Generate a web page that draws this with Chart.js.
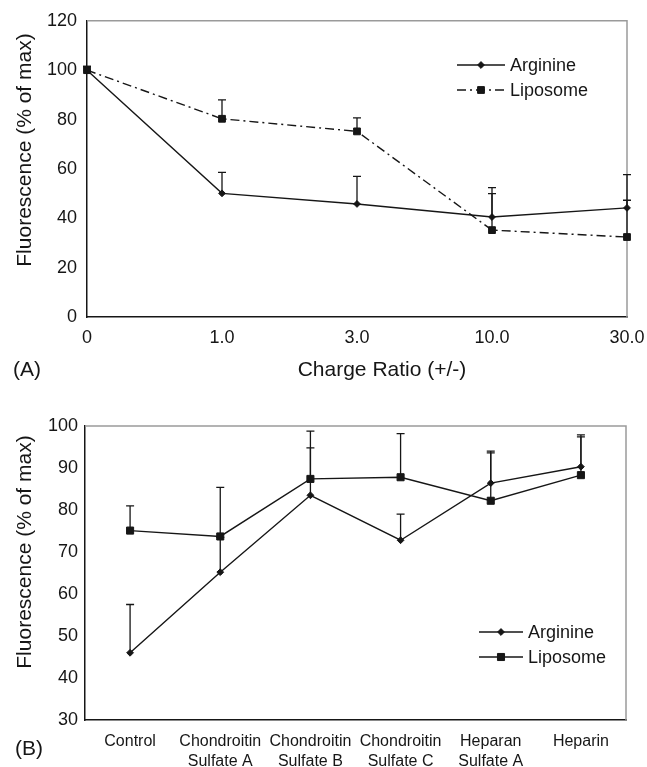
<!DOCTYPE html>
<html>
<head>
<meta charset="utf-8">
<script src="https://cdn.jsdelivr.net/npm/chart.js@4.4.0/dist/chart.umd.min.js"></script>
<style>
  body { margin: 0; background: #fff; }
  #wrap { position: relative; width: 647px; height: 767px; overflow: hidden; }
  canvas { position: absolute; left: 0; }
  #chartA { top: 0; }
  #chartB { top: 380px; }
</style>
</head>
<body>
<div id="wrap">
  <canvas id="chartA" width="647" height="386"></canvas>
  <canvas id="chartB" width="647" height="387"></canvas>
</div>
<script>
// Panel A: fluorescence vs charge ratio (upper error only)
const ratioLabels  = ["0", "1.0", "3.0", "10.0", "30.0"];
const arginineA    = [100, 50.1, 45.8, 40.5, 44.2];
const arginineAErr = [101.5, 58.6, 57.0, 52.4, 57.7];
const liposomeA    = [100, 80.3, 75.2, 35.2, 32.4];
const liposomeAErr = [101.5, 88.0, 80.7, 50.0, 47.3];

// Panel B: fluorescence after glycosaminoglycan challenge
const agentLabels = [
  ["Control"],
  ["Chondroitin", "Sulfate A"],
  ["Chondroitin", "Sulfate B"],
  ["Chondroitin", "Sulfate C"],
  ["Heparan", "Sulfate A"],
  ["Heparin"],
];
const arginineB    = [46.0, 65.2, 83.5, 72.8, 86.4, 90.3];
const arginineBErr = [57.5, 73.5, 94.8, 79.0, 93.6, 97.4];
const liposomeB    = [75.1, 73.7, 87.4, 87.8, 82.2, 88.3];
const liposomeBErr = [81.0, 85.4, 98.8, 98.2, 94.0, 97.9];

const INK = "#161616";
const FONT = "'Liberation Sans', Arial, sans-serif";
Chart.defaults.font.family = FONT;
Chart.defaults.color = INK;

function drawMarker(ctx, style, x, y, r) {
  ctx.beginPath();
  if (style === "rect") {
    const h = r * Math.SQRT1_2;
    ctx.rect(x - h, y - h, 2 * h, 2 * h);
  } else {
    ctx.moveTo(x - r, y);
    ctx.lineTo(x, y - r);
    ctx.lineTo(x + r, y);
    ctx.lineTo(x, y + r);
    ctx.closePath();
  }
  ctx.fill();
  ctx.stroke();
}

// one-sided (upper) error bars from dataset.errTop
const errorBars = {
  id: "errorBars",
  beforeDatasetsDraw(chart) {
    const ctx = chart.ctx;
    const xs = chart.scales.x, ys = chart.scales.y;
    chart.data.datasets.forEach((ds) => {
      if (!ds.errTop) return;
      ctx.save();
      ctx.strokeStyle = INK;
      ctx.lineWidth = 1.3;
      ds.errTop.forEach((top, i) => {
        if (top == null) return;
        const px = xs.getPixelForValue(i);
        const y0 = ys.getPixelForValue(ds.data[i]);
        const y1 = ys.getPixelForValue(top);
        ctx.beginPath();
        ctx.moveTo(px, y0);
        ctx.lineTo(px, y1);
        ctx.moveTo(px - 4, y1);
        ctx.lineTo(px + 4, y1);
        ctx.stroke();
      });
      ctx.restore();
    });
  },
};

// grey top and right edges of the plot box
const frame = {
  id: "frame",
  beforeDatasetsDraw(chart) {
    const ctx = chart.ctx, a = chart.chartArea;
    ctx.save();
    ctx.strokeStyle = "#9a9a9a";
    ctx.lineWidth = 1.5;
    ctx.beginPath();
    ctx.moveTo(a.left, a.top);
    ctx.lineTo(a.right, a.top);
    ctx.lineTo(a.right, a.bottom);
    ctx.stroke();
    ctx.restore();
  },
};

// legend inside the plot: line sample with marker in the middle
const insideLegend = {
  id: "insideLegend",
  afterDraw(chart, args, opts) {
    const ctx = chart.ctx;
    chart.data.datasets.forEach((ds, i) => {
      const y = opts.y + i * opts.rowGap;
      ctx.save();
      ctx.strokeStyle = ds.borderColor;
      ctx.lineWidth = ds.borderWidth;
      ctx.setLineDash(ds.borderDash || []);
      ctx.beginPath();
      ctx.moveTo(opts.x, y);
      ctx.lineTo(opts.x + opts.sample, y);
      ctx.stroke();
      ctx.setLineDash([]);
      ctx.fillStyle = INK;
      ctx.lineWidth = 1;
      drawMarker(ctx, ds.pointStyle, opts.x + opts.sample / 2, y, ds.pointRadius);
      ctx.font = opts.fontSize + "px " + FONT;
      ctx.textBaseline = "middle";
      ctx.textAlign = "left";
      ctx.fillText(ds.label, opts.x + opts.sample + 5, y + 1);
      ctx.restore();
    });
  },
};

// axis titles and panel letters
const captions = {
  id: "captions",
  afterDraw(chart, args, opts) {
    const ctx = chart.ctx;
    (opts.items || []).forEach((it) => {
      ctx.save();
      ctx.font = (it.size || 21) + "px " + FONT;
      ctx.fillStyle = INK;
      ctx.textBaseline = "middle";
      ctx.textAlign = it.align || "center";
      ctx.translate(it.x, it.y);
      if (it.rotate) ctx.rotate(it.rotate * Math.PI / 180);
      ctx.fillText(it.text, 0, 0);
      ctx.restore();
    });
  },
};

function series(label, data, errTop, style, radius, dash) {
  return {
    label,
    data,
    errTop,
    borderColor: INK,
    backgroundColor: INK,
    borderWidth: 1.4,
    borderDash: dash || [],
    pointStyle: style,
    pointRadius: radius,
    pointHoverRadius: radius,
    pointBorderWidth: 1,
    pointBackgroundColor: INK,
    pointBorderColor: INK,
    tension: 0,
    fill: false,
    clip: false,
  };
}

function axisX(labels, offset, fontSize, lineHeight, pad, height) {
  return {
    type: "category",
    labels,
    offset,
    grid: { display: false, drawTicks: false },
    border: { display: true, color: INK, width: 1.5 },
    ticks: {
      autoSkip: false, maxRotation: 0, padding: pad, color: INK,
      font: { size: fontSize, lineHeight },
    },
    afterFit(scale) {
      // let the end labels hang past the plot box, as in the original
      scale.height = height;
      scale.paddingLeft = 0;
      scale.paddingRight = 0;
    },
  };
}

function axisY(min, max, step, pad, width) {
  return {
    min, max,
    grid: { display: false, drawTicks: false },
    border: { display: true, color: INK, width: 1.5 },
    ticks: { stepSize: step, padding: pad, color: INK, font: { size: 18 } },
    afterFit(scale) { scale.width = width; },
  };
}

new Chart(document.getElementById("chartA"), {
  type: "line",
  data: {
    labels: ratioLabels,
    datasets: [
      series("Arginine", arginineA, arginineAErr, "rectRot", 3.4),
      series("Liposome", liposomeA, liposomeAErr, "rect", 4.8, [9, 4, 2, 4]),
    ],
  },
  options: {
    responsive: false,
    animation: false,
    layout: { padding: { top: 20, right: 20, left: 0, bottom: 0 } },
    scales: {
      x: axisX(ratioLabels, false, 18, 1.2, 10, 69),
      y: axisY(0, 120, 20, 10, 87),
    },
    plugins: {
      legend: { display: false },
      tooltip: { enabled: false },
      insideLegend: { x: 457, y: 65, rowGap: 25, sample: 48, fontSize: 18 },
      captions: {
        items: [
          { text: "Fluorescence (% of max)", x: 25, y: 150, rotate: -90 },
          { text: "Charge Ratio (+/-)", x: 382, y: 370 },
          { text: "(A)", x: 13, y: 370, align: "left" },
        ],
      },
    },
  },
  plugins: [frame, errorBars, insideLegend, captions],
});

new Chart(document.getElementById("chartB"), {
  type: "line",
  data: {
    labels: agentLabels,
    datasets: [
      series("Arginine", arginineB, arginineBErr, "rectRot", 3.4),
      series("Liposome", liposomeB, liposomeBErr, "rect", 5),
    ],
  },
  options: {
    responsive: false,
    animation: false,
    layout: { padding: { top: 46, right: 21, left: 0, bottom: 0 } },
    scales: {
      x: axisX(agentLabels, true, 16, 1.25, 12, 47),
      y: axisY(30, 100, 10, 7, 85),
    },
    plugins: {
      legend: { display: false },
      tooltip: { enabled: false },
      insideLegend: { x: 479, y: 252, rowGap: 25, sample: 44, fontSize: 18 },
      captions: {
        items: [
          { text: "Fluorescence (% of max)", x: 25, y: 172, rotate: -90 },
          { text: "(B)", x: 15, y: 369, align: "left" },
        ],
      },
    },
  },
  plugins: [frame, errorBars, insideLegend, captions],
});
</script>
</body>
</html>
